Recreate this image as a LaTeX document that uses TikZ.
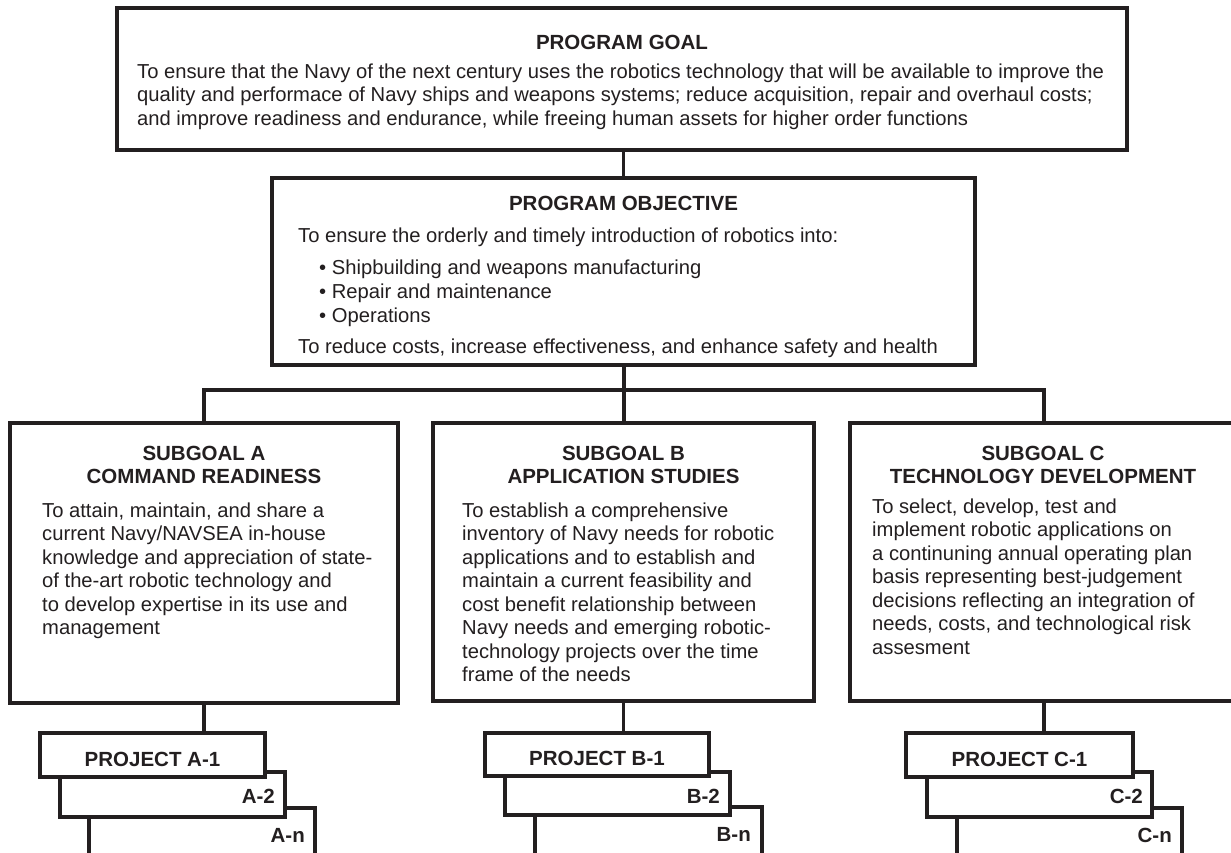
\documentclass[tikz,border=0pt]{standalone}
\usepackage{fontspec}
\setmainfont{Liberation Sans}
\newcommand\bodyfs{\fontsize{20.2}{23.5}\selectfont}
\newcommand\headfs{\fontsize{20.5}{23.5}\selectfont}
\definecolor{ink}{HTML}{231F20}
\begin{document}
\begin{tikzpicture}[x=1pt,y=-1pt,
  box/.style={draw=ink,line width=3.6pt,fill=white,outer sep=0pt,inner sep=0pt,anchor=north west},
  conn/.style={draw=ink,line width=3.6pt},
  txt/.style={inner sep=0pt,anchor=base west,font=\bodyfs,text=ink},
  ttl/.style={inner sep=0pt,anchor=base,font=\headfs\bfseries,text=ink},
  lbl/.style={inner sep=0pt,anchor=base east,font=\headfs\bfseries,text=ink}]
\useasboundingbox (0,0) rectangle (1231,852);
\clip (0,0) rectangle (1231,852);
\fill[white] (0,0) rectangle (1231,852);

% main boxes
\node[box,minimum width=1010pt,minimum height=142pt] (goal) at (117,8) {};
\node[box,minimum width=703pt,minimum height=187pt] (obj) at (272,178) {};
\node[box,minimum width=388pt,minimum height=280pt] (subA) at (10,423) {};
\node[box,minimum width=381pt,minimum height=278pt] (subB) at (433,423) {};
\node[box,minimum width=388pt,minimum height=278pt] (subC) at (850,423) {};

% connectors
\coordinate (bus) at (624,390);
\draw[conn] (obj.north) -- (obj.north |- goal.south);
\draw[conn] (bus |- obj.south) -- (bus |- subB.north);
\draw[conn] (subA.north) |- (bus) -| (subC.north);

% project stacks
\node[box,minimum width=226pt,minimum height=70pt] (pAn) at (89,808) {};
\node[box,minimum width=225pt,minimum height=45pt] (pA2) at (60,772) {};
\node[box,minimum width=225pt,minimum height=44pt] (pA1) at (40,733) {};
\node[box,minimum width=227pt,minimum height=70pt] (pBn) at (535,807) {};
\node[box,minimum width=225pt,minimum height=43pt] (pB2) at (505,772) {};
\node[box,minimum width=224pt,minimum height=43pt] (pB1) at (485,733) {};
\node[box,minimum width=225pt,minimum height=70pt] (pCn) at (957,808) {};
\node[box,minimum width=225pt,minimum height=45pt] (pC2) at (927,772) {};
\node[box,minimum width=227pt,minimum height=44pt] (pC1) at (906,733) {};

\draw[conn] (subA.south) -- (subA.south |- pA1.north);
\draw[conn] (subB.south) -- (subB.south |- pB1.north);
\draw[conn] (subC.south) -- (subC.south |- pC1.north);

\node[ttl] (tA1) at (pA1.center |- 0,766) {PROJECT A-1};
\node[lbl] (tA2) at (275,803) {A-2};
\node[lbl] (tAn) at (305,842) {A-n};
\node[ttl] (tB1) at (pB1.center |- 0,765) {PROJECT B-1};
\node[lbl] (tB2) at (720,803) {B-2};
\node[lbl] (tBn) at (751,841) {B-n};
\node[ttl] (tC1) at (pC1.center |- 0,766) {PROJECT C-1};
\node[lbl] (tC2) at (1143,803) {C-2};
\node[lbl] (tCn) at (1172,842) {C-n};

% goal text
\node[ttl] (gt) at (goal.center |- 0,49) {PROGRAM GOAL};
\foreach \t [count=\i from 0] in {
  {To ensure that the Navy of the next century uses the robotics technology that will be available to improve the},
  {quality and performace of Navy ships and weapons systems; reduce acquisition, repair and overhaul costs;},
  {and improve readiness and endurance, while freeing human assets for higher order functions}}
  \node[txt] (gl\i) at (137,{78+23.5*\i}) {\t};

% objective text
\node[ttl] (ot) at (obj.center |- 0,210) {PROGRAM OBJECTIVE};
\node[txt] (ol0) at (298,242) {To ensure the orderly and timely introduction of robotics into:};
\foreach \t [count=\i from 0] in {
  {Shipbuilding and weapons manufacturing},
  {Repair and maintenance},
  {Operations}}
  \node[txt] (ob\i) at (319,{274+24*\i}) {•\ \t};
\node[txt] (ol1) at (298,353) {To reduce costs, increase effectiveness, and enhance safety and health};

% subgoal A
\node[ttl] (at1) at (subA.center |- 0,460) {SUBGOAL A};
\node[ttl] (at2) at (subA.center |- 0,483) {COMMAND READINESS};
\foreach \t [count=\i from 0] in {
  {To attain, maintain, and share a},
  {current Navy/NAVSEA in-house},
  {knowledge and appreciation of state-},
  {of the-art robotic technology and},
  {to develop expertise in its use and},
  {management}}
  \node[txt] (al\i) at (42,{517+23.5*\i}) {\t};

% subgoal B
\node[ttl] (bt1) at (subB.center |- 0,460) {SUBGOAL B};
\node[ttl] (bt2) at (subB.center |- 0,483) {APPLICATION STUDIES};
\foreach \t [count=\i from 0] in {
  {To establish a comprehensive},
  {inventory of Navy needs for robotic},
  {applications and to establish and},
  {maintain a current feasibility and},
  {cost benefit relationship between},
  {Navy needs and emerging robotic-},
  {technology projects over the time},
  {frame of the needs}}
  \node[txt] (bl\i) at (462,{517+23.5*\i}) {\t};

% subgoal C
\node[ttl] (ct1) at (1043,460) {SUBGOAL C};
\node[ttl] (ct2) at (1043,483) {TECHNOLOGY DEVELOPMENT};
\foreach \t [count=\i from 0] in {
  {To select, develop, test and},
  {implement robotic applications on},
  {a continuning annual operating plan},
  {basis representing best-judgement},
  {decisions reflecting an integration of},
  {needs, costs, and technological risk},
  {assesment}}
  \node[txt] (cl\i) at (872,{513+23.5*\i}) {\t};
\end{tikzpicture}
\end{document}
